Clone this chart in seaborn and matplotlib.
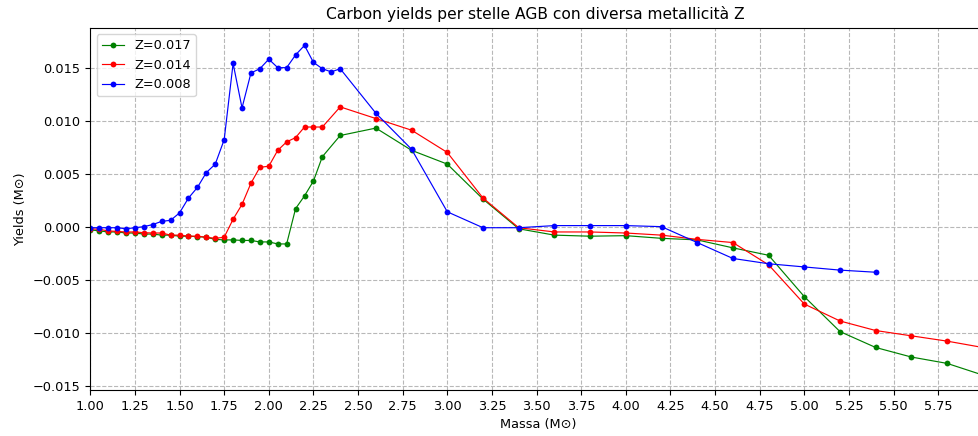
import matplotlib
matplotlib.use("Agg")
import matplotlib.pyplot as plt
import seaborn as sns
import numpy as np

# Masses (Msun)
mass_017 = [1.00, 1.05, 1.10, 1.15, 1.20, 1.25, 1.30, 1.35, 1.40, 1.45, 1.50, 1.55,
            1.60, 1.65, 1.70, 1.75, 1.80, 1.85, 1.90, 1.95, 2.00, 2.05, 2.10,
            2.15, 2.20, 2.25, 2.30, 2.40, 2.60, 2.80, 3.00, 3.20, 3.40, 3.60, 3.80,
            4.00, 4.20, 4.40, 4.60, 4.80, 5.00, 5.20, 5.40, 5.60, 5.80, 6.00]
yield_017 = [-0.0003, -0.0004, -0.0005, -0.0005, -0.0006, -0.0006, -0.0007, -0.0007,
             -0.0008, -0.0008, -0.0009, -0.0009,
             -0.00094, -0.0010, -0.0012, -0.00125, -0.00125, -0.0013, -0.0013, -0.00144,
             -0.00144, -0.00163, -0.00163,
             0.0017, 0.0029, 0.0043, 0.0066, 0.0086, 0.0093, 0.0072, 0.0059, 0.0026,
             -0.0002, -0.0008, -0.0009, -0.00085, -0.0011, -0.00125, -0.0020, -0.0027,
             -0.0066, -0.0099, -0.0114, -0.0123, -0.0129, -0.0140]

mass_014 = [1.00, 1.05, 1.10, 1.15, 1.20, 1.25, 1.30, 1.35, 1.40, 1.45, 1.50, 1.55,
            1.60, 1.65, 1.70, 1.75, 1.80, 1.85, 1.90, 1.95, 2.00, 2.05, 2.10,
            2.15, 2.20, 2.25, 2.30, 2.40, 2.60, 2.80, 3.00, 3.20, 3.40, 3.60, 3.80,
            4.00, 4.20, 4.40, 4.60, 4.80, 5.00, 5.20, 5.40, 5.60, 5.80, 6.00]
yield_014 = [-0.0002, -0.00025, -0.0004, -0.00045, -0.0005, -0.0005, -0.00057, -0.0006,
             -0.0006, -0.0008, -0.0008, -0.0009, -0.0009, -0.0010, -0.0011, -0.0010,
             0.0007, 0.0021, 0.0041, 0.0056, 0.0057, 0.0072, 0.0080, 0.0084, 0.0094,
             0.0094, 0.0094, 0.0113, 0.0102, 0.0091, 0.0070, 0.0027, -0.0001, -0.0005,
             -0.0005, -0.0006, -0.0008, -0.0012, -0.0015, -0.0036, -0.0073, -0.0089,
             -0.0098, -0.0103, -0.0108, -0.0114]

mass_008 = [1.00, 1.05, 1.10, 1.15, 1.20, 1.25, 1.30, 1.35, 1.40, 1.45, 1.50, 1.55,
            1.60, 1.65, 1.70, 1.75, 1.80, 1.85, 1.90, 1.95, 2.00, 2.05, 2.10,
            2.15, 2.20, 2.25, 2.30, 2.35, 2.40, 2.60, 2.80, 3.00, 3.20, 3.40, 3.60,
            3.80, 4.00, 4.20, 4.40, 4.60, 4.80, 5.00, 5.20, 5.40]
yield_008 = [-0.0001, -0.0001, -0.0001, -0.0001, -0.0002, -0.0001, 0.0000, 0.0002,
             0.0005, 0.0006, 0.0013, 0.0027, 0.0037, 0.0051, 0.0059, 0.0082, 0.0154,
             0.0112, 0.0145, 0.0149, 0.0158, 0.0150, 0.0150, 0.0162, 0.0171, 0.0155,
             0.0149, 0.0146, 0.0149, 0.0107, 0.0073, 0.0014, -0.0001, -0.0001, 0.0001,
             0.0001, 0.0001, 0.0000, -0.0015, -0.0030, -0.0035, -0.0038, -0.0041,
             -0.0043]

series = [("Z=0.017", mass_017, yield_017, "green"),
          ("Z=0.014", mass_014, yield_014, "red"),
          ("Z=0.008", mass_008, yield_008, "blue")]

x_ticks = [1.00, 1.25, 1.50, 1.75, 2.00, 2.25, 2.50, 2.75, 3.00, 3.25, 3.50, 3.75,
           4.00, 4.25, 4.50, 4.75, 5.00, 5.25, 5.50, 5.75]
y_ticks = [-0.015, -0.010, -0.005, 0.000, 0.005, 0.010, 0.015]

W, H = 979, 436
fig = plt.figure(figsize=(W / 100, H / 100), dpi=100)
left, right, top, bottom = 90.3, 986.0, 27.7, 390.0
ax = fig.add_axes([left / W, 1 - bottom / H, (right - left) / W, (bottom - top) / H])

for label, m, y, c in series:
    sns.lineplot(x=m, y=y, ax=ax, color=c, label=label, linewidth=0.85,
                 marker="o", markersize=4.2, markeredgewidth=0, sort=False)

ax.set_xlim(1.0, 1.0 + (right - left) / 178.5)
ax.set_ylim(-0.01541, 0.01877)
ax.set_xticks(x_ticks)
ax.set_xticklabels([f"{t:.2f}" for t in x_ticks])
ax.set_yticks(y_ticks)
ax.tick_params(labelsize=9.3)
ax.grid(True, linestyle="--", color="#b8b8b8", linewidth=0.8)
ax.set_axisbelow(True)

ax.set_xlabel("Massa (M⊙)", fontsize=9.3)
ax.set_ylabel("Yields (M⊙)", fontsize=9.3)
ax.set_title("Carbon yields per stelle AGB con diversa metallicità Z", fontsize=11.2,
             x=(535.0 - left) / (right - left))
ax.legend(loc="upper left", fontsize=9.3, handlelength=1.7)

fig.savefig("out.png", dpi=100)
